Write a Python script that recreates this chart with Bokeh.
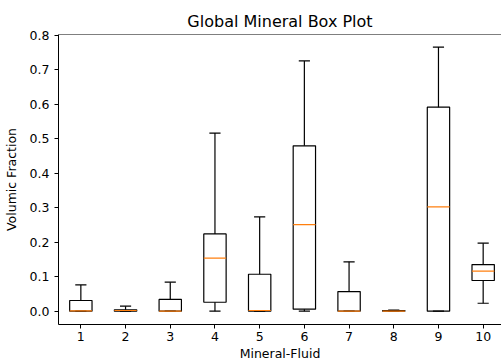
from bokeh.plotting import figure
from bokeh.models import ColumnDataSource, FixedTicker, PrintfTickFormatter, Range1d, Span
from bokeh.embed import file_html
from bokeh.resources import INLINE

# ---- data ----
categories = [1, 2, 3, 4, 5, 6, 7, 8, 9, 10]
whisker_low = [0.0, 0.0, 0.0, 0.0, 0.0, 0.0, 0.0, 0.0, 0.0, 0.023]
q1 = [0.0, 0.0, 0.0, 0.026, 0.0, 0.006, 0.0, 0.0, 0.0, 0.089]
median = [0.001, 0.002, 0.0, 0.154, 0.002, 0.251, 0.0, 0.0, 0.302, 0.116]
q3 = [0.031, 0.004, 0.034, 0.224, 0.107, 0.479, 0.057, 0.002, 0.591, 0.135]
whisker_high = [0.076, 0.0145, 0.084, 0.516, 0.273, 0.725, 0.143, 0.003, 0.765, 0.197]
y_ticks = [0.0, 0.1, 0.2, 0.3, 0.4, 0.5, 0.6, 0.7, 0.8]

box_w = 0.5
cap_w = 0.25

src = ColumnDataSource(dict(
    x=categories,
    left=[c - box_w / 2 for c in categories],
    right=[c + box_w / 2 for c in categories],
    cl=[c - cap_w / 2 for c in categories],
    cr=[c + cap_w / 2 for c in categories],
    lo=whisker_low, q1=q1, med=median, q3=q3, hi=whisker_high,
))

FONT = "DejaVu Sans"

p = figure(width=501, height=364, output_backend="svg", toolbar_location=None,
           x_range=Range1d(0.5, 10.41), y_range=Range1d(-0.0385, 0.8015),
           min_border_left=58, min_border_right=0, min_border_top=34, min_border_bottom=40,
           title="Global Mineral Box Plot")

p.title.align = "center"
p.title.text_font = FONT
p.title.text_font_size = "16px"
p.title.text_font_style = "normal"
p.title.text_color = "black"
p.title.standoff = 8

p.grid.visible = False
p.outline_line_color = None
p.background_fill_color = "white"
p.border_fill_color = "white"

# top spine
p.add_layout(Span(location=0.8015, dimension="width", line_color="black", line_width=1))

# whiskers
p.segment(x0="x", y0="q3", x1="x", y1="hi", source=src, line_color="black", line_width=1.2)
p.segment(x0="x", y0="lo", x1="x", y1="q1", source=src, line_color="black", line_width=1.2)
# caps
p.segment(x0="cl", y0="hi", x1="cr", y1="hi", source=src, line_color="black", line_width=1.2)
p.segment(x0="cl", y0="lo", x1="cr", y1="lo", source=src, line_color="black", line_width=1.2)
# boxes
p.quad(left="left", right="right", bottom="q1", top="q3", source=src,
       fill_color=None, line_color="black", line_width=1.2)
# medians
p.segment(x0="left", y0="med", x1="right", y1="med", source=src, line_color="#ff7f0e", line_width=1.2)

for ax in (p.xaxis[0], p.yaxis[0]):
    ax.axis_line_color = "black"
    ax.axis_line_width = 1
    ax.major_tick_line_color = "black"
    ax.major_tick_in = 0
    ax.major_tick_out = 4
    ax.minor_tick_line_color = None
    ax.major_label_text_font = FONT
    ax.major_label_text_font_size = "12.5px"
    ax.major_label_text_color = "black"
    ax.axis_label_text_font = FONT
    ax.axis_label_text_font_size = "12.5px"
    ax.axis_label_text_font_style = "normal"
    ax.axis_label_text_color = "black"

p.xaxis.ticker = FixedTicker(ticks=categories)
p.xaxis.axis_label = "Mineral-Fluid"
p.xaxis.major_label_standoff = 3
p.xaxis.axis_label_standoff = 2

p.yaxis.ticker = FixedTicker(ticks=y_ticks)
p.yaxis.formatter = PrintfTickFormatter(format="%.1f")
p.yaxis.axis_label = "Volumic Fraction"
p.yaxis.major_label_standoff = 5
p.yaxis.axis_label_standoff = 8

open("out.html", "w").write(file_html(p, INLINE))
